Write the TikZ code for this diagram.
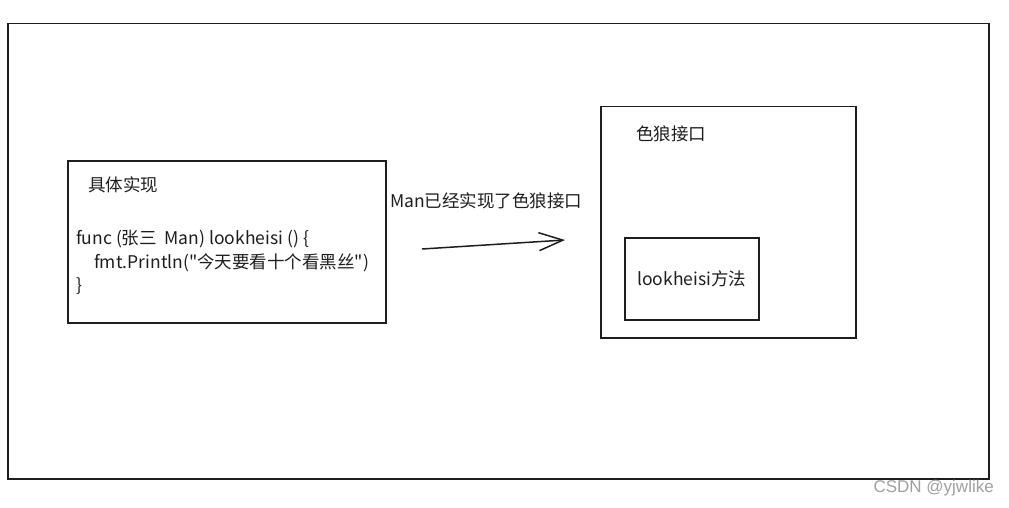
\documentclass[tikz,border=0pt]{standalone}
\usepackage{fontspec}
\setmainfont{Noto Sans CJK SC}
\newfontfamily\codefont{Noto Sans CJK SC}
\newfontfamily\wmfont{Liberation Sans}
\usetikzlibrary{arrows.meta}
\definecolor{ink}{HTML}{1E1E1E}
\definecolor{mark}{HTML}{A0A0A0}
\tikzset{
  box/.style={draw=ink, line width=1.5pt, inner sep=0pt},
  txt/.style={text=ink, inner sep=0pt, font=\fontsize{17.5}{23.5}\selectfont},
  sketcharrow/.style={draw=ink, line width=1.5pt, -{Straight Barb[length=24pt,width=18pt,line width=1.5pt]}}
}
\begin{document}
\begin{tikzpicture}[x=1pt,y=-1pt]
  \useasboundingbox (0,0) rectangle (1009,508);
  % outer frame
  \node[box, anchor=north west, minimum width=981pt, minimum height=455pt] (frame) at (7,23) {};

  % implementation box
  \node[box, anchor=north west, minimum width=318pt, minimum height=162pt] (impl) at (67,160) {};
  \node[txt, anchor=west] (implTitle) at (88,185) {具体实现};
  \node[txt, anchor=north west, align=left, font=\codefont\fontsize{17.5}{23.5}\selectfont] (code) at (76,230) {func (张三 \ Man) lookheisi () \{\\
    \hspace*{18pt}fmt.Println("今天要看十个看黑丝")\\
    \}};

  % arrow and its label
  \node[txt, anchor=west] (arrLabel) at (390,201) {Man已经实现了色狼接口};
  \coordinate (arrS) at (422,249);
  \coordinate (arrE) at (565,240);
  \draw[sketcharrow] (arrS) -- (arrE);

  % interface box
  \node[box, anchor=north west, minimum width=255pt, minimum height=231pt] (iface) at (600,106) {};
  \node[txt, anchor=west] (ifaceTitle) at (636,134) {色狼接口};
  \node[box, anchor=north west, minimum width=134pt, minimum height=82pt] (method) at (624,237) {};
  \node[txt] (methodText) at (method.center) {lookheisi方法};

  % watermark
  \node[anchor=east, inner sep=0pt, text=mark, font=\wmfont\fontsize{17}{20}\selectfont] (wm) at (994,488) {CSDN @yjwlike};
\end{tikzpicture}
\end{document}
